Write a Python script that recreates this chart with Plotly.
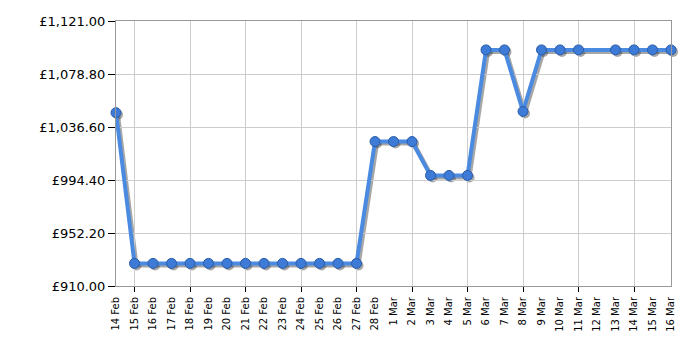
import plotly.graph_objects as go

days = ["14 Feb", "15 Feb", "16 Feb", "17 Feb", "18 Feb", "19 Feb", "20 Feb", "21 Feb",
        "22 Feb", "23 Feb", "24 Feb", "25 Feb", "26 Feb", "27 Feb", "28 Feb", "1 Mar",
        "2 Mar", "3 Mar", "4 Mar", "5 Mar", "6 Mar", "7 Mar", "8 Mar", "9 Mar", "10 Mar",
        "11 Mar", "12 Mar", "13 Mar", "14 Mar", "15 Mar", "16 Mar"]
prices = [1048, 928, 928, 928, 928, 928, 928, 928,
          928, 928, 928, 928, 928, 928, 1025, 1025,
          1025, 998, 998, 998, 1098, 1098, 1049, 1098, 1098,
          1098, None, 1098, 1098, 1098, 1098]
y_ticks = [910.00, 952.20, 994.40, 1036.60, 1078.80, 1121.00]
y_labels = ["£{:,.2f}".format(v) for v in y_ticks]

idx = list(range(len(days)))
grid_idx = idx[1::3]

W, H = 700, 350
L, R, T, B = 116, 27, 21, 62
dx = 2 / (W - L - R)
dy = 2 / (H - T - B)
xr = [0, len(days) - 1]
yr = [y_ticks[0], y_ticks[-1]]

fig = go.Figure()
# shadow
fig.add_trace(go.Scatter(x=idx, y=prices, xaxis="x", yaxis="y", mode="lines+markers",
                         connectgaps=True, cliponaxis=False, hoverinfo="skip",
                         line=dict(color="rgba(60,60,60,0.45)", width=4),
                         marker=dict(size=10, color="rgba(60,60,60,0.45)")))
# grid carrier (invisible)
fig.add_trace(go.Scatter(x=idx, y=prices, xaxis="x4", yaxis="y2", mode="lines",
                         hoverinfo="skip", line=dict(color="rgba(0,0,0,0)", width=0)))
# main
fig.add_trace(go.Scatter(x=idx, y=prices, xaxis="x2", yaxis="y2", mode="lines+markers",
                         connectgaps=True, cliponaxis=False,
                         line=dict(color="#4A8AE0", width=4),
                         marker=dict(size=10, color="#3D7BD6",
                                     line=dict(color="#2A5CA8", width=1))))

fig.update_layout(
    width=W, height=H,
    margin=dict(l=L, r=R, t=T, b=B),
    paper_bgcolor="white", plot_bgcolor="rgba(0,0,0,0)",
    showlegend=False,
    font=dict(family="DejaVu Sans, Verdana, sans-serif", color="black"),
    xaxis=dict(domain=[dx, 1], range=xr, visible=False, anchor="y"),
    yaxis=dict(domain=[0, 1 - dy], range=yr, visible=False, anchor="x"),
    xaxis2=dict(domain=[0, 1 - dx], range=xr, anchor="y2",
                tickmode="array", tickvals=idx, ticktext=days, tickangle=-90,
                tickfont=dict(size=10), ticks="outside", ticklen=6,
                tickcolor="rgba(0,0,0,0)", showgrid=False,
                showline=True, linecolor="#999999", linewidth=1, mirror=True,
                zeroline=False),
    xaxis4=dict(overlaying="x2", range=xr, anchor="y2", side="bottom",
                tickmode="array", tickvals=grid_idx, showticklabels=False,
                ticks="outside", ticklen=5, tickcolor="black", tickwidth=1,
                showgrid=True, gridcolor="#CCCCCC", gridwidth=1,
                showline=False, zeroline=False),
    yaxis2=dict(domain=[dy, 1], range=yr, anchor="x2",
                tickmode="array", tickvals=y_ticks, ticktext=y_labels,
                tickfont=dict(size=13), ticks="outside", ticklen=7,
                tickcolor="black", tickwidth=1,
                showgrid=True, gridcolor="#CCCCCC", gridwidth=1,
                showline=True, linecolor="#999999", linewidth=1, mirror=True,
                zeroline=False),
)

fig.write_html("out.html")
